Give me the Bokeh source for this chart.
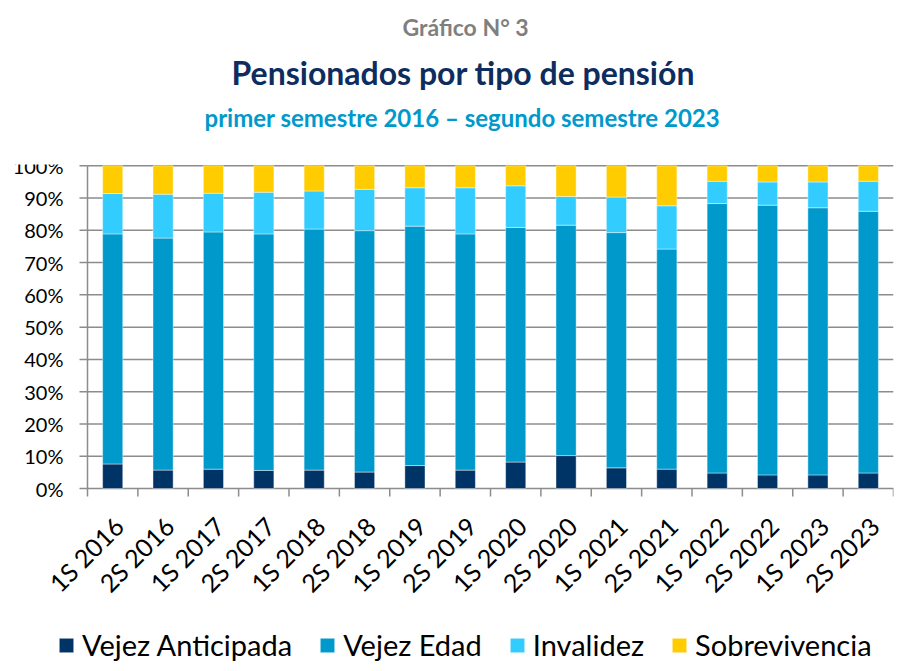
import math
from bokeh.plotting import figure
from bokeh.models import (Range1d, Title, Legend, LegendItem, ColumnDataSource)
from bokeh.core.properties import value
from bokeh.embed import file_html
from bokeh.resources import INLINE

categories = ["1S 2016", "2S 2016", "1S 2017", "2S 2017", "1S 2018", "2S 2018",
              "1S 2019", "2S 2019", "1S 2020", "2S 2020", "1S 2021", "2S 2021",
              "1S 2022", "2S 2022", "1S 2023", "2S 2023"]
vejez_anticipada = [7.6, 5.7, 6.0, 5.6, 5.7, 5.1, 7.1, 5.7, 8.2, 10.2, 6.4, 6.0, 4.8, 4.2, 4.2, 4.8]
vejez_edad = [71.3, 71.9, 73.5, 73.3, 74.7, 74.8, 74.2, 73.2, 72.7, 71.4, 72.9, 68.2, 83.5, 83.6, 82.8, 81.1]
invalidez = [12.5, 13.6, 12.0, 12.9, 11.8, 12.8, 11.9, 14.3, 12.9, 8.9, 11.0, 13.4, 6.9, 7.2, 8.0, 9.3]
sobrevivencia = [8.6, 8.8, 8.5, 8.2, 7.8, 7.3, 6.8, 6.8, 6.2, 9.5, 9.7, 12.4, 4.8, 5.0, 5.0, 4.8]
series_names = ["Vejez Anticipada", "Vejez Edad", "Invalidez", "Sobrevivencia"]
series_colors = ["#003366", "#0099cc", "#33ccff", "#ffcc00"]
y_ticks = [0, 10, 20, 30, 40, 50, 60, 70, 80, 90, 100]
y_tick_labels = ["0%", "10%", "20%", "30%", "40%", "50%", "60%", "70%", "80%", "90%", "100%"]

FONT = "Lato"
GRAY = "#8c8c8c"

n = len(categories)
xpos = [i + 0.5 for i in range(n)]
keys = ["va", "ve", "inv", "sob"]
data = dict(x=xpos, label=categories)
for k, vals in zip(keys, [vejez_anticipada, vejez_edad, invalidez, sobrevivencia]):
    data[k] = vals
source = ColumnDataSource(data)

# one frame holds everything: tick labels to the left of x=0, labels/legend below y=0
LEFT_PX = 87
PLOT_W = 806
CAT_PX = PLOT_W / n
FRAME_H = 498
Y_TOP = 100.4
PX_PER_UNIT = 324 / Y_TOP
Y_BOTTOM = Y_TOP - FRAME_H / PX_PER_UNIT

p = figure(frame_width=LEFT_PX + PLOT_W, frame_height=FRAME_H, output_backend="svg",
           toolbar_location=None,
           x_range=Range1d(-LEFT_PX / CAT_PX, n), y_range=Range1d(Y_BOTTOM, Y_TOP),
           x_axis_location=None, y_axis_location=None,
           min_border_left=0, min_border_right=2, min_border_bottom=0, min_border_top=0)
p.outline_line_color = None
p.background_fill_color = "white"
p.border_fill_color = "white"
p.xgrid.grid_line_color = None
p.ygrid.grid_line_color = None

# gridlines (0 line doubles as category axis line)
p.segment(x0=0, y0=y_ticks, x1=n, y1=y_ticks, line_color=GRAY, line_width=1.5)
# value axis line and ticks
p.segment(x0=0, y0=0, x1=0, y1=100, line_color=GRAY, line_width=1.5)
p.segment(x0=0, y0=y_ticks, x1=-8 / CAT_PX, y1=y_ticks, line_color=GRAY, line_width=1.5)
p.text(x=0, y=y_ticks, text=y_tick_labels, x_offset=-24, text_align="right",
       text_baseline="middle", text_font=value(FONT), text_font_size="20px", text_color="black")

renderers = p.vbar_stack(keys, x="x", width=0.4, source=source, color=series_colors,
                         line_color="white", line_width=0.6, line_alpha=0.7)

# category boundary tick marks below the axis
bounds_x = list(range(n + 1))
p.segment(x0=bounds_x, y0=0, x1=bounds_x, y1=-8 / PX_PER_UNIT,
          line_color=GRAY, line_width=1.5)

# rotated category labels
p.text(x="x", y=-33 / PX_PER_UNIT, text="label", source=source, angle=math.pi / 4,
       x_offset=6, text_align="right", text_baseline="middle",
       text_font=value(FONT), text_font_size="25px", text_color="black")

# titles (p.title is outermost; added titles stack outward in order)
p.title.text = "Gráfico N° 3"
p.title.text_font = FONT
p.title.text_font_size = "23px"
p.title.text_color = "#7f7f7f"
p.title.align = "left"
p.title.offset = 402
p.title.standoff = 20
p.add_layout(Title(text=" ", text_font=FONT, text_font_size="2px", standoff=20), "above")
p.add_layout(Title(text="primer semestre 2016 – segundo semestre 2023", text_font=FONT,
                   text_font_size="24px", text_color="#0099cc", align="left", offset=204,
                   standoff=18), "above")
p.add_layout(Title(text="Pensionados por tipo de pensión", text_font=FONT, text_font_size="32px",
                   text_color="#0d2d5e", align="left", offset=231, standoff=0), "above")

legend = Legend(items=[LegendItem(label=nm, renderers=[r]) for nm, r in zip(series_names, renderers)],
                orientation="horizontal", location=(57, 0))
legend.label_text_font = FONT
legend.label_text_font_size = "29px"
legend.label_text_color = "black"
legend.glyph_width = 18
legend.glyph_height = 18
legend.label_standoff = 7
legend.spacing = 26
legend.border_line_color = None
legend.background_fill_alpha = 0
legend.padding = 0
legend.margin = 0
p.add_layout(legend, "center")

open("out.html", "w").write(file_html(p, INLINE))
